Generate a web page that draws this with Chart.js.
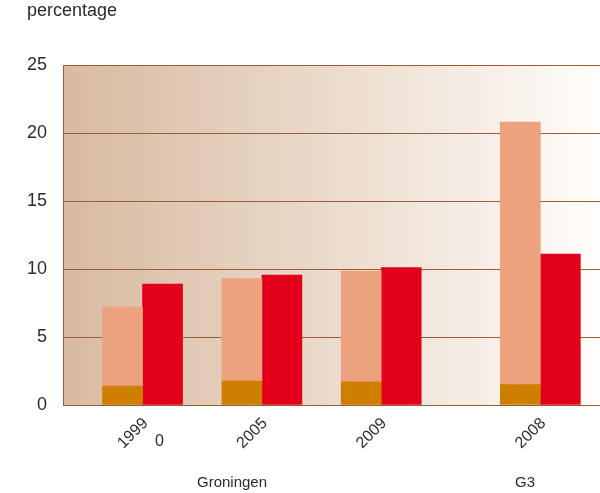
<!DOCTYPE html>
<html>
<head>
<meta charset="utf-8">
<script src="https://cdn.jsdelivr.net/npm/chart.js@4"></script>
<style>
  html,body{margin:0;padding:0;background:#fff;}
  #wrap{position:relative;width:600px;height:493px;overflow:hidden;font-family:"Liberation Sans",Arial,sans-serif;color:#2b2b2b;}
  canvas{position:absolute;left:0;top:0;}
  .lbl{position:absolute;white-space:nowrap;line-height:1;}
</style>
</head>
<body>
<div id="wrap">
  <canvas id="c" width="600" height="493"></canvas>
  <div class="lbl" style="left:27px;top:1px;font-size:18px;">percentage</div>
  <div class="lbl" style="left:155px;top:433px;font-size:16px;">0</div>
  <div class="lbl" style="left:197px;top:474px;font-size:15px;">Groningen</div>
  <div class="lbl" style="left:515px;top:474px;font-size:15px;">G3</div>
</div>
<script>
// ---- data ----
const categories = ['1999', '2005', '2009', '2008'];
const groupOf    = [0, 0, 0, 1];            // 0 = Groningen, 1 = G3
const seriesBase  = [1.4, 1.75, 1.7, 1.5];  // dark orange segment
const seriesUpper = [5.8, 7.55, 8.15, 19.3];// salmon segment stacked on top
const seriesRed   = [8.9, 9.55, 10.1, 11.1];
const yTicks = [0, 5, 10, 15, 20, 25];

// layout: each group slot = 3 bar widths, one extra bar width between groups
const xPos = categories.map((c, i) => i * 3 + groupOf[i]);
const pts = arr => arr.map((v, i) => ({ x: xPos[i], y: v }));

const bgPlugin = {
  id: 'bg',
  beforeDraw(chart) {
    const { ctx, chartArea: a } = chart;
    const g = ctx.createLinearGradient(a.left, 0, a.right, 0);
    g.addColorStop(0, '#d8baa0');
    g.addColorStop(0.5, '#ebdbcc');
    g.addColorStop(1, '#fffdfb');
    ctx.save();
    ctx.fillStyle = g;
    ctx.fillRect(a.left, a.top, a.right - a.left, a.bottom - a.top);
    ctx.restore();
  }
};

new Chart(document.getElementById('c'), {
  type: 'bar',
  data: {
    datasets: [
      { data: pts(seriesBase),  backgroundColor: '#cf7f00', stack: 'a', barThickness: 40 },
      { data: pts(seriesUpper), backgroundColor: '#eca27e', stack: 'a', barThickness: 40 },
      { data: pts(seriesRed),   backgroundColor: '#e2001a', stack: 'b', barThickness: 40 }
    ]
  },
  options: {
    responsive: false,
    animation: false,
    layout: { padding: { top: 65, left: 0, right: 0, bottom: 0 } },
    plugins: { legend: { display: false }, tooltip: { enabled: false } },
    scales: {
      x: {
        type: 'linear',
        min: -2, max: 11.5,
        offset: false,
        grid: { display: false },
        border: { display: false },
        afterBuildTicks: s => { s.ticks = xPos.map(v => ({ value: v })); },
        afterFit: s => { s.height = 88; },
        ticks: {
          autoSkip: false, minRotation: 45, maxRotation: 45,
          padding: 1,
          labelOffset: 3,
          color: '#2b2b2b',
          font: { family: '"Liberation Sans", Arial, sans-serif', size: 16 },
          callback: (v, i) => categories[i]
        }
      },
      y: {
        min: 0, max: 25,
        afterBuildTicks: s => { s.ticks = yTicks.map(v => ({ value: v })); },
        afterFit: s => { s.width = 63; },
        grid: { color: '#9b5c3c', lineWidth: 1, drawTicks: false },
        border: { display: true, color: '#9b5c3c', width: 1 },
        ticks: {
          padding: 16,
          color: '#2b2b2b',
          font: { family: '"Liberation Sans", Arial, sans-serif', size: 18 }
        }
      }
    }
  },
  plugins: [bgPlugin]
});
</script>
</body>
</html>
